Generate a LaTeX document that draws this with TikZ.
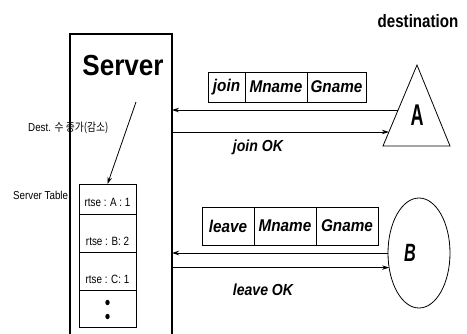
\documentclass[tikz,border=0pt]{standalone}
\usepackage{fontspec}
\usepackage{graphicx}
\setmainfont{Liberation Sans}
\newfontfamily\krfont{Noto Sans CJK KR}
\usetikzlibrary{arrows.meta,calc,shapes.geometric}
% horizontally condensed text
\newcommand{\narrowtxt}[2]{\scalebox{#1}[1]{#2}}

\begin{document}
\begin{tikzpicture}[x=1pt,y=-1pt,
  arr/.style={-{Stealth[length=7pt,width=4.5pt]}, line width=0.8pt},
  cell/.style={draw, line width=0.8pt, inner sep=0pt, outer sep=0pt, anchor=west,
    font=\fontsize{17}{17}\selectfont\bfseries\itshape},
  tabrow/.style={draw, line width=0.7pt, minimum width=57pt, inner sep=0pt,
    outer sep=0pt, anchor=north},
  rowtext/.style={font=\fontsize{12}{12}\selectfont, inner sep=0pt},
  msg/.style={font=\fontsize{16}{16}\selectfont\bfseries\itshape, inner sep=0pt},
  side/.style={font=\fontsize{11.5}{11.5}\selectfont, inner sep=0pt, anchor=west}]
\useasboundingbox (0,0) rectangle (467,333);
\clip (0,0) rectangle (467,333);

% side labels (partly covered by the server frame)
\node[side] (destlbl) at (28,128) {\narrowtxt{0.85}{Dest. {\krfont 수 증가(감소)}}};
\node[side] (tbllbl) at (13,195) {\narrowtxt{0.85}{Server Table}};

% server frame, open at the bottom
\node[draw, line width=2.2pt, minimum width=102pt, minimum height=330pt,
  inner sep=0pt, outer sep=0pt, anchor=north west] (srv) at (70,34) {};
\node[font=\fontsize{29}{29}\selectfont\bfseries, inner sep=0pt] (srvtitle) at (123,66)
  {\narrowtxt{0.9}{Server}};

% server table
\node[tabrow, minimum height=30pt] (t1) at (107.5,184) {};
\node[tabrow, minimum height=38pt] (t2) at (t1.south) {};
\node[tabrow, minimum height=38pt] (t3) at (t2.south) {};
\node[tabrow, minimum height=37pt] (t4) at (t3.south) {};
\node[rowtext] (t1txt) at ($(t1.center)+(0,3)$) {\narrowtxt{0.82}{rtse : A : 1}};
\node[rowtext] (t2txt) at ($(t2.center)+(0,8)$) {\narrowtxt{0.82}{rtse : B: 2}};
\node[rowtext] (t3txt) at ($(t3.center)+(0,8)$) {\narrowtxt{0.82}{rtse : C: 1}};
\fill ($(t4.center)+(0,-6)$) ellipse [x radius=2.2pt, y radius=2.7pt];
\fill ($(t4.center)+(0,8)$) ellipse [x radius=2.2pt, y radius=2.7pt];

\coordinate (ptr) at (136,102);
\draw[arr] (ptr) -- (t1.north);

% destination label
\node[font=\fontsize{18}{18}\selectfont\bfseries, inner sep=0pt] (destttl) at (418,21)
  {\narrowtxt{0.84}{destination}};

% destination A
\coordinate (aTop) at (417,65);
\coordinate (aL) at (383,146);
\coordinate (aR) at (450,146);
\draw[line width=0.8pt, line join=miter] (aTop) -- (aL) -- (aR) -- cycle;
\node[font=\fontsize{30}{30}\selectfont\bfseries, inner sep=0pt] (destA) at (417,115)
  {\narrowtxt{0.6}{A}};

% join message
\node[cell, minimum width=37pt, minimum height=30pt] (jc1) at (208,87) {\narrowtxt{0.9}{join}};
\node[cell, minimum width=62pt, minimum height=30pt] (jc2) at (jc1.east) {\narrowtxt{0.9}{Mname}};
\node[cell, minimum width=59pt, minimum height=30pt] (jc3) at (jc2.east) {\narrowtxt{0.9}{Gname}};

\coordinate (aIn) at ($(aL)!0.444!(aTop)$);
\coordinate (aOut) at ($(aL)!0.173!(aTop)$);
\draw[arr] (aIn) -- (aIn -| srv.east);
\draw[arr] (srv.east |- aOut) -- (aOut);
\node[msg] (joinok) at (258,147) {\narrowtxt{0.88}{join OK}};

% destination B
\node[draw, ellipse, line width=0.8pt, minimum width=62pt, minimum height=110pt,
  inner sep=0pt, outer sep=0pt] (destB) at (419,253) {};
\node[font=\fontsize{25}{25}\selectfont\bfseries\itshape, inner sep=0pt] (destBlbl) at (410,253)
  {\narrowtxt{0.65}{B}};

% leave message
\node[cell, minimum width=52pt, minimum height=38pt] (lc1) at (202,226) {\narrowtxt{0.9}{leave}};
\node[cell, minimum width=62pt, minimum height=38pt] (lc2) at (lc1.east) {\narrowtxt{0.9}{Mname}};
\node[cell, minimum width=62pt, minimum height=38pt] (lc3) at (lc2.east) {\narrowtxt{0.9}{Gname}};

\draw[arr] (destB.west) -- (destB.west -| srv.east);
\draw[arr] (destB.206.7 -| srv.east) -- (destB.206.7);
\node[msg] (leaveok) at (263,290) {\narrowtxt{0.88}{leave OK}};
\end{tikzpicture}
\end{document}
